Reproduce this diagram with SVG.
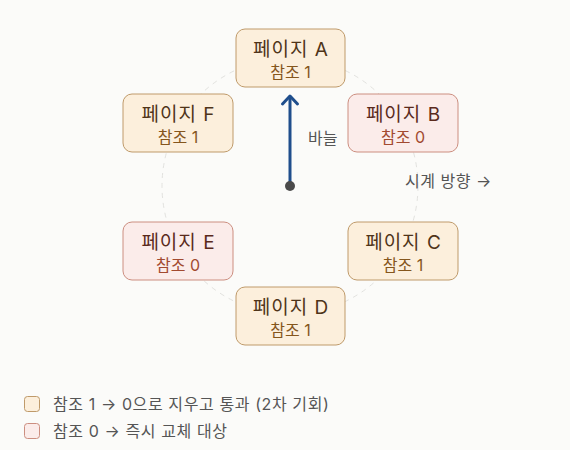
<svg xmlns="http://www.w3.org/2000/svg" width="570" height="450" viewBox="0 0 570 450">
<style>
.t{font-family:"Inter","Noto Sans CJK KR",sans-serif;text-anchor:middle}
.h{font-size:19px;letter-spacing:1px}
.s{font-size:16px}
.ok rect{fill:#fcefdc;stroke:#bf9a6a;stroke-width:1}
.ok .h{fill:#4f3419}
.ok .s{fill:#85561c}
.rp rect{fill:#fbecea;stroke:#cc8e80;stroke-width:1}
.rp .h{fill:#5a2a1c}
.rp .s{fill:#a24a30}
.lab{font-family:"Inter","Noto Sans CJK KR",sans-serif;font-size:16px;fill:#555}
.lg{letter-spacing:0.6px}
</style>
<rect width="570" height="450" fill="#fbfbf9"/>
<circle cx="290" cy="186" r="128" fill="none" stroke="#e2e2df" stroke-width="1" stroke-dasharray="5 5"/>
<g id="connectors">
<line x1="290" y1="186" x2="290" y2="97" stroke="#1f4e8c" stroke-width="3"/>
<polyline points="282.5,104 290,96 297.5,104" fill="none" stroke="#1f4e8c" stroke-width="3" stroke-linecap="round" stroke-linejoin="round"/>
<circle cx="290" cy="186" r="5" fill="#4a4a4a"/>
</g>
<g id="nodeA" class="ok"><rect x="236" y="29" width="109" height="58" rx="9"/><text class="t h" x="291" y="56">페이지 A</text><text class="t s" x="290.5" y="78">참조 1</text></g>
<g id="nodeB" class="rp"><rect x="348" y="94" width="110" height="58" rx="9"/><text class="t h" x="403.5" y="121">페이지 B</text><text class="t s" x="403" y="143">참조 0</text></g>
<g id="nodeC" class="ok"><rect x="348" y="222" width="110" height="58" rx="9"/><text class="t h" x="403.5" y="249">페이지 C</text><text class="t s" x="403" y="271">참조 1</text></g>
<g id="nodeD" class="ok"><rect x="236" y="287" width="109" height="58" rx="9"/><text class="t h" x="291" y="314">페이지 D</text><text class="t s" x="290.5" y="336">참조 1</text></g>
<g id="nodeE" class="rp"><rect x="123" y="222" width="110" height="58" rx="9"/><text class="t h" x="178.5" y="249">페이지 E</text><text class="t s" x="178" y="271">참조 0</text></g>
<g id="nodeF" class="ok"><rect x="123" y="94" width="110" height="58" rx="9"/><text class="t h" x="178.5" y="121">페이지 F</text><text class="t s" x="178" y="143">참조 1</text></g>
<text class="lab" x="308" y="144">바늘</text>
<text class="lab" x="405" y="187" letter-spacing="0.5">시계 방향 →</text>
<g id="legend">
<rect x="24.5" y="396.5" width="15" height="15" rx="3" fill="#fcefdc" stroke="#bf9a6a"/>
<text class="lab lg" x="53" y="410">참조 1 → 0으로 지우고 통과 (2차 기회)</text>
<rect x="24.5" y="423.5" width="15" height="15" rx="3" fill="#fbecea" stroke="#cc8e80"/>
<text class="lab lg" x="53" y="437">참조 0 → 즉시 교체 대상</text>
</g>
</svg>
